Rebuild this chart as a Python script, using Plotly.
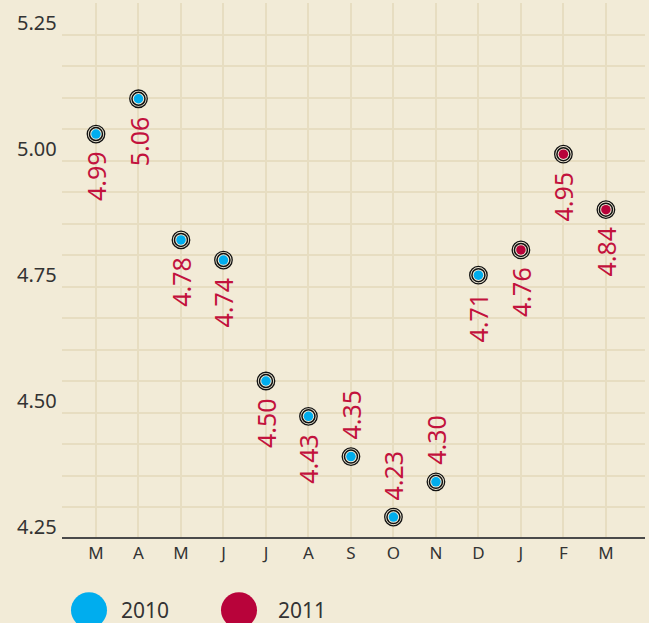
import plotly.graph_objects as go

# ---- data ----
months = ["M", "A", "M", "J", "J", "A", "S", "O", "N", "D", "J", "F", "M"]
values = [4.99, 5.06, 4.78, 4.74, 4.50, 4.43, 4.35, 4.23, 4.30, 4.71, 4.76, 4.95, 4.84]
year_of_point = ["2010"] * 10 + ["2011"] * 3
years = ["2010", "2011"]
y_tick_values = [4.25, 4.50, 4.75, 5.00]
y_tick_labels = ["4.25", "4.50", "4.75", "5.00", "5.25"]
y_label_values = [4.25, 4.50, 4.75, 5.00, 5.25]

# ---- styling ----
BG = "#f2ebd7"
GRID = "#e7ddc1"
TEXT = "#333333"
AXIS = "#4a4a4a"
LABEL_RED = "#c2123d"
year_colors = {"2010": "#00adee", "2011": "#b8033a"}
label_side = ["below"] * 6 + ["above"] * 3 + ["below"] * 4
FONT = "Noto Sans"

xs = list(range(len(months)))

fig = go.Figure()

# outer ring
fig.add_trace(go.Scatter(
    x=xs, y=values, mode="markers", hoverinfo="skip", showlegend=False,
    marker=dict(size=17.5, color=BG, line=dict(color="#111111", width=1.3)),
))
# inner ring
fig.add_trace(go.Scatter(
    x=xs, y=values, mode="markers", hoverinfo="skip", showlegend=False,
    marker=dict(size=13, color=BG, line=dict(color="#111111", width=1.5)),
))
# coloured dots per year
for yr in years:
    px = [x for x, y in zip(xs, year_of_point) if y == yr]
    pv = [v for v, y in zip(values, year_of_point) if y == yr]
    fig.add_trace(go.Scatter(
        x=px, y=pv, mode="markers", name=yr, showlegend=False,
        marker=dict(size=9.5, color=year_colors[yr], line=dict(width=0)),
    ))

annotations = []
# value labels, rotated
for x, v, side in zip(xs, values, label_side):
    if side == "below":
        annotations.append(dict(x=x, y=v, xref="x", yref="y", text=f"{v:.2f}",
                                textangle=-90, showarrow=False, yanchor="top",
                                yshift=-15, font=dict(family=FONT, size=25, color=LABEL_RED)))
    else:
        annotations.append(dict(x=x, y=v, xref="x", yref="y", text=f"{v:.2f}",
                                textangle=-90, showarrow=False, yanchor="bottom",
                                yshift=15, font=dict(family=FONT, size=25, color=LABEL_RED)))

# y tick labels (sit below their tick marks)
for yv, yt in zip(y_label_values, y_tick_labels):
    annotations.append(dict(x=0, y=yv, xref="paper", yref="y", text=yt,
                            showarrow=False, xanchor="right", yanchor="middle",
                            xshift=-3, yshift=-19,
                            font=dict(family=FONT, size=20, color=TEXT)))

# legend
legend_pos = {"2010": (0.0463, 0.0978), "2011": (0.3036, 0.367)}
shapes = []
for yr in years:
    cx, tx = legend_pos[yr]
    shapes.append(dict(type="circle", xref="paper", yref="paper",
                       xsizemode="pixel", ysizemode="pixel",
                       xanchor=cx, yanchor=-0.137, x0=-18, x1=18, y0=-18, y1=18,
                       fillcolor=year_colors[yr], line=dict(width=0)))
    annotations.append(dict(x=tx, y=-0.137, xref="paper", yref="paper", text=yr,
                            showarrow=False, xanchor="left", yanchor="middle",
                            font=dict(family=FONT, size=21, color=TEXT)))

YR = [4.1905, 5.25]
fig.update_layout(
    width=649, height=623,
    margin=dict(l=62, r=4, t=3, b=86),
    paper_bgcolor=BG, plot_bgcolor=BG,
    showlegend=False,
    annotations=annotations,
    shapes=shapes,
    xaxis=dict(
        range=[-0.8, 12.92], tickmode="array", tickvals=xs, ticktext=months,
        showgrid=True, gridcolor=GRID, gridwidth=1.6, zeroline=False,
        showline=True, linecolor=AXIS, linewidth=1.5, ticks="",
        tickfont=dict(family=FONT, size=17, color=TEXT), ticklabelstandoff=0,
    ),
    yaxis=dict(
        range=YR, tickmode="linear", tick0=4.25, dtick=0.0625,
        showgrid=True, gridcolor=GRID, gridwidth=1.6, zeroline=False,
        showticklabels=False, ticks="", showline=False,
    ),
    yaxis2=dict(
        range=YR, overlaying="y", side="left", anchor="x",
        tickmode="array", tickvals=y_tick_values, showticklabels=False,
        ticks="outside", ticklen=24, tickwidth=1.5, tickcolor=AXIS,
        showline=True, linecolor=AXIS, linewidth=1.5, showgrid=False, zeroline=False,
    ),
)

fig.write_html(
    "out.html",
    config={"displayModeBar": False},
    post_script="document.body.style.margin='0px';document.body.style.background='%s';" % BG,
)
